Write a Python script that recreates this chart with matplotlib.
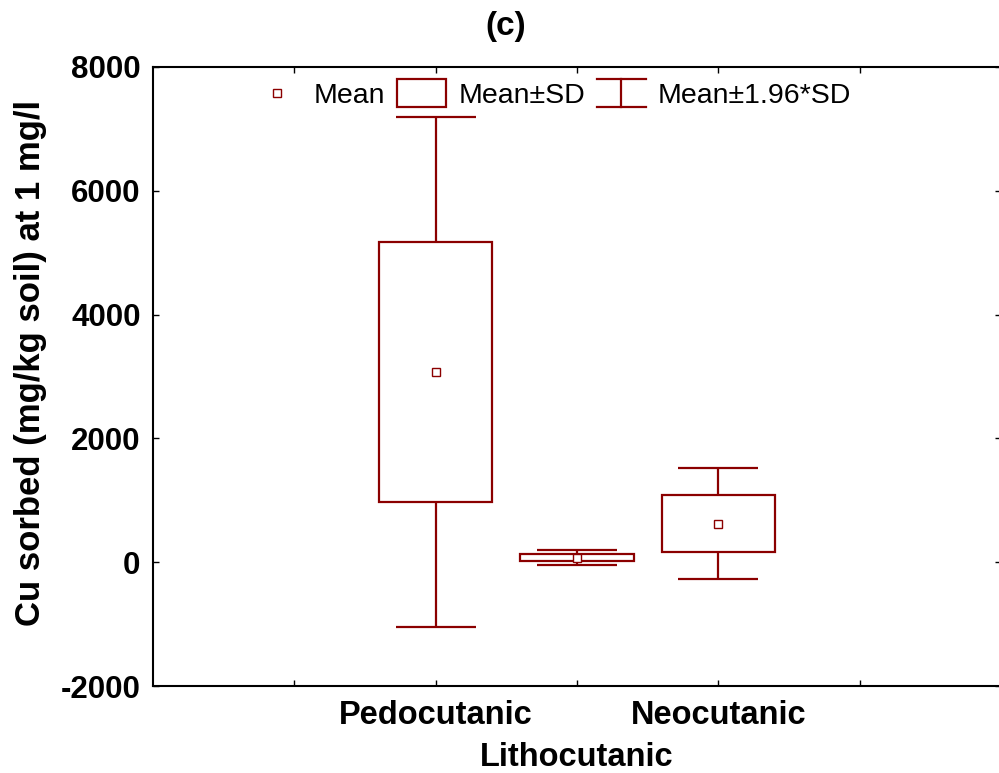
import matplotlib
matplotlib.use("Agg")
import matplotlib.pyplot as plt
from matplotlib.legend_handler import HandlerBase
from matplotlib.patches import Rectangle
from matplotlib.lines import Line2D

plt.rcParams['font.family'] = ['Liberation Sans', 'DejaVu Sans']

categories = ['Pedocutanic', 'Lithocutanic', 'Neocutanic']
means = [3075, 75, 625]
sds = [2100, 62, 460]
ytick_vals = [-2000, 0, 2000, 4000, 6000, 8000]
title = '(c)'
ylabel = 'Cu sorbed (mg/kg soil) at 1 mg/l'
legend_labels = ['Mean', 'Mean±SD', 'Mean±1.96*SD']

color = '#8b0000'

fig = plt.figure(figsize=(9.99, 7.73), dpi=100)
ax = fig.add_axes([153/999, 1-686/773, (1001-153)/999, (686-67)/773])

xs = [1, 2, 3]
lows = [m - s for m, s in zip(means, sds)]
heights = [2*s for s in sds]
whisk = [1.96*s for s in sds]

ax.bar(xs, heights, bottom=lows, width=0.8, facecolor='white', edgecolor=color,
       linewidth=1.6, zorder=3)
ax.errorbar(xs, means, yerr=whisk, fmt='none', ecolor=color, elinewidth=1.6,
            capsize=29, capthick=1.6, zorder=2)
ax.plot(xs, means, linestyle='none', marker='s', markersize=6, markerfacecolor='white',
        markeredgecolor=color, markeredgewidth=1.0, zorder=4)

ax.set_xlim(-1, 5)
ax.set_ylim(-2000, 8000)
ax.set_yticks(ytick_vals)
ax.set_yticklabels([str(v) for v in ytick_vals], fontsize=22.5, fontweight='bold')
ax.set_xticks([0, 1, 2, 3, 4])
xl = ['', categories[0], '', categories[2], '']
ax.set_xticklabels(xl, fontsize=23.5, fontweight='bold')
ax.annotate(categories[1], xy=(2, 0), xycoords=('data', 'axes fraction'),
            xytext=(0, -40), textcoords='offset points', ha='center', va='top',
            fontsize=23.5, fontweight='bold', annotation_clip=False)
ax.tick_params(axis='both', direction='in', length=4, width=1, top=True, right=True)
ax.tick_params(axis='y', pad=9)
ax.tick_params(axis='x', pad=10)
for sp in ax.spines.values():
    sp.set_linewidth(1.5)


class BoxHandler(HandlerBase):
    def create_artists(self, legend, orig_handle, xdescent, ydescent, width, height, fontsize, trans):
        h = height * 1.4
        r = Rectangle((-xdescent, -ydescent + height/2 - h/2), width, h, facecolor='white',
                      edgecolor=color, linewidth=1.6, transform=trans)
        return [r]


class WhiskHandler(HandlerBase):
    def create_artists(self, legend, orig_handle, xdescent, ydescent, width, height, fontsize, trans):
        h = height * 1.4
        y0 = -ydescent + height/2 - h/2
        y1 = y0 + h
        x0 = -xdescent
        xm = x0 + width/2
        arts = [Line2D([x0, x0+width], [y0, y0], color=color, lw=1.6),
                Line2D([x0, x0+width], [y1, y1], color=color, lw=1.6),
                Line2D([xm, xm], [y0, y1], color=color, lw=1.6)]
        for a in arts:
            a.set_transform(trans)
        return arts


lfs = 20.5
h_mean = Line2D([], [], linestyle='none', marker='s', markersize=6, markerfacecolor='white',
                markeredgecolor=color, markeredgewidth=1.0)
h_box = Rectangle((0, 0), 1, 1)
h_wh = Line2D([], [])
leg = ax.legend([h_mean, h_box, h_wh], legend_labels, ncol=3, frameon=False,
                loc='center', bbox_to_anchor=(552/999, 1-96/773), bbox_transform=fig.transFigure,
                fontsize=lfs, handlelength=1.72, handletextpad=0.42, columnspacing=0.42,
                handler_map={Rectangle: BoxHandler(), h_wh: WhiskHandler()})

fig.text(506/999, 1-26/773, title, ha='center', va='center', fontsize=24, fontweight='bold')
fig.text(31/999, 1-363/773, ylabel, ha='center', va='center', rotation=90,
         fontsize=25, fontweight='bold')

fig.savefig('out.png', dpi=100)
